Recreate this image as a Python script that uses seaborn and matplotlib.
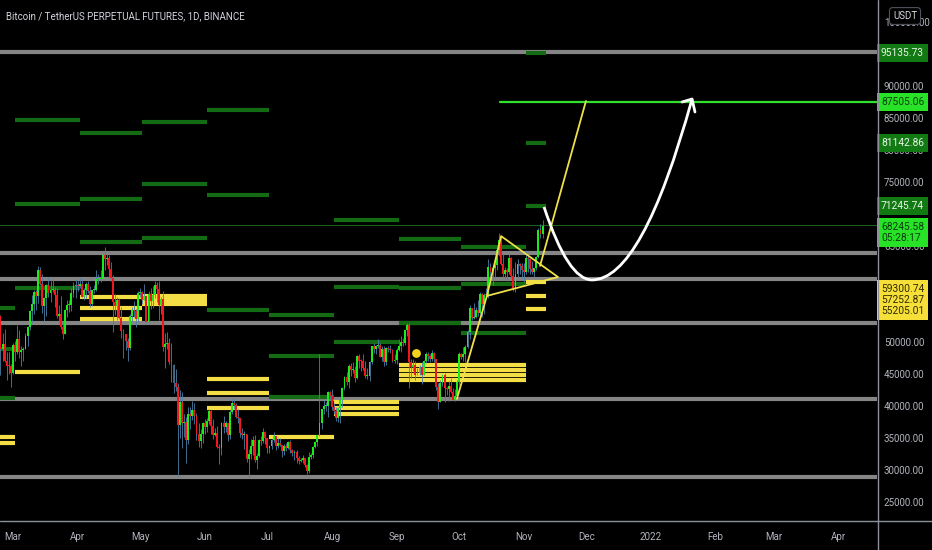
import pandas as pd
import matplotlib
matplotlib.use('Agg')
import matplotlib.pyplot as plt
import matplotlib.dates as mdates
import matplotlib.transforms as mtransforms
from matplotlib.path import Path
from matplotlib.patches import PathPatch
from matplotlib.lines import Line2D
import seaborn as sns

# ---- daily candles (thousand USDT), 2021-02-22 .. 2021-11-10 ----
start_date = '2021-02-22'
first_open = 57.4
closes = [
    54.1, 48.9, 49.7, 47.0, 46.3, 46.2, 45.2,
    49.6, 48.4, 50.5, 48.4, 48.8, 48.9, 51.0, 52.4, 54.9, 55.9, 57.8, 57.2, 61.2, 59.0, 55.6, 56.9,
    58.9, 57.6, 58.1, 58.1, 57.4, 54.1, 54.3, 52.3, 51.3, 55.0, 55.8, 55.8, 57.6, 58.8, 58.8,
    58.7, 59.0, 57.1, 58.2, 59.1, 58.0, 56.0, 58.1, 58.1, 59.8, 59.8, 59.9, 63.6, 62.9, 63.2,
    61.4, 60.0, 56.2, 55.7, 56.5, 53.8, 51.7, 51.2, 50.1, 49.0, 54.0, 55.0, 54.8, 53.6, 57.7,
    57.8, 56.6, 57.2, 53.2, 57.5, 56.4, 57.3, 58.9, 58.3, 55.8, 56.7, 49.2, 49.7, 49.9, 46.8, 46.4,
    43.6, 42.9, 37.0, 40.7, 37.3, 37.5, 34.7, 38.8, 38.4, 39.3, 38.5, 35.7, 34.6, 35.7, 37.3,
    36.7, 37.6, 39.2, 36.9, 35.5, 35.8, 33.6, 33.4, 37.4, 36.7, 37.3, 35.5, 39.1, 40.5, 40.2,
    38.3, 38.1, 35.8, 35.5, 35.6, 31.7, 32.5, 33.7, 34.7, 31.6, 32.2, 34.7, 34.5, 35.9, 35.0,
    33.5, 33.8, 34.7, 35.3, 33.7, 34.2, 33.9, 32.9, 33.8, 33.5, 34.3, 33.1, 32.7, 32.8, 31.9, 31.4,
    31.5, 31.8, 30.8, 29.8, 32.1, 32.3, 33.6, 34.3, 35.4, 37.3, 39.5, 40.0, 40.0, 42.2, 41.5,
    39.8, 39.2, 38.2, 39.7, 40.9, 42.8, 44.6, 43.8, 46.3, 45.6, 45.6, 44.4, 47.8, 47.1, 47.0, 45.9,
    44.7, 44.7, 46.8, 49.3, 48.9, 49.3, 49.5, 47.7, 48.9, 46.9, 49.1, 48.9, 48.8, 47.0, 47.2,
    48.8, 49.3, 50.0, 49.9, 51.8, 52.7, 46.9, 46.1, 46.4, 44.9, 45.2, 46.1, 44.9, 47.1, 48.1,
    47.8, 47.3, 48.3, 47.3, 43.0, 40.7, 43.6, 44.9, 42.8, 42.7, 43.2, 42.2, 41.0, 41.5, 43.8,
    48.1, 47.7, 48.2, 49.2, 51.5, 55.3, 53.8, 53.9, 55.0, 54.6, 57.5, 56.0, 57.4, 57.3, 61.7, 60.9,
    61.5, 62.0, 64.3, 66.0, 62.2, 60.7, 61.3, 60.9, 63.1, 60.3, 58.5, 60.6, 62.2, 61.9, 61.3,
    61.0, 63.2, 62.9, 61.4, 61.0, 61.5, 63.3, 67.5, 66.9, 68.2,
]
highs = [
    57.5, 54.2, 51.4, 52.0, 48.4, 48.4, 46.6,
    49.8, 50.2, 52.6, 51.8, 49.4, 49.2, 51.4, 52.5, 55.0, 57.4, 58.2, 58.1, 61.8, 61.7, 60.6, 57.0,
    59.0, 60.1, 59.5, 59.9, 58.6, 58.4, 55.8, 57.2, 53.2, 55.1, 56.6, 56.6, 58.4, 59.4, 59.8,
    59.5, 60.0, 59.8, 58.5, 59.3, 59.5, 58.7, 58.2, 58.9, 61.2, 60.7, 61.2, 63.8, 64.9, 63.8,
    63.6, 62.5, 60.5, 57.5, 57.0, 56.8, 55.5, 52.1, 51.2, 50.6, 54.4, 55.5, 56.4, 55.2, 58.0,
    58.5, 57.9, 59.0, 57.2, 58.0, 58.4, 58.7, 59.5, 59.3, 59.6, 57.0, 58.0, 51.4, 51.6, 50.7, 49.8,
    46.6, 45.8, 43.6, 42.5, 42.2, 38.8, 38.3, 39.9, 39.8, 40.8, 40.4, 38.9, 37.3, 36.4, 37.5,
    37.9, 38.2, 39.5, 39.3, 37.9, 36.5, 36.8, 34.1, 37.5, 38.4, 37.7, 37.4, 39.3, 41.1, 41.3,
    40.5, 39.6, 38.2, 36.5, 36.1, 35.7, 33.3, 34.9, 35.3, 35.5, 32.7, 34.8, 35.3, 36.6, 36.1,
    35.0, 33.9, 34.9, 35.9, 35.3, 35.0, 35.0, 33.9, 34.1, 34.2, 34.6, 34.7, 33.3, 33.1, 33.2, 32.2,
    31.9, 32.4, 31.9, 31.0, 32.8, 32.6, 33.7, 34.5, 35.5, 48.2, 39.6, 40.9, 40.6, 42.3, 42.4,
    42.6, 40.4, 39.8, 39.9, 41.3, 43.0, 44.7, 45.3, 46.5, 46.7, 46.8, 46.2, 48.0, 48.1, 47.4, 48.1,
    47.1, 46.0, 47.0, 49.4, 49.8, 49.5, 50.5, 49.9, 49.3, 49.4, 49.2, 49.3, 49.6, 48.9, 48.2,
    49.0, 50.4, 51.0, 50.6, 51.9, 52.9, 52.9, 47.3, 47.4, 47.1, 45.9, 46.4, 46.9, 47.2, 48.4,
    48.5, 48.1, 48.8, 48.4, 47.3, 43.6, 44.0, 45.0, 45.2, 42.9, 43.9, 44.4, 42.8, 42.6, 44.1,
    48.5, 48.3, 49.2, 49.5, 51.9, 55.8, 55.3, 56.1, 55.5, 56.5, 57.8, 57.7, 57.6, 58.5, 62.9, 62.3,
    61.7, 62.6, 64.5, 67.0, 66.6, 63.7, 61.7, 61.5, 63.7, 63.3, 61.5, 62.5, 62.9, 62.3, 62.4,
    62.4, 64.3, 63.5, 63.1, 62.6, 61.6, 63.4, 67.8, 68.5, 69.0,
]
lows = [
    48.0, 44.9, 47.0, 46.9, 44.1, 45.0, 43.0,
    45.0, 47.0, 48.1, 47.5, 46.3, 47.1, 48.9, 49.3, 51.8, 53.0, 54.3, 55.0, 56.1, 58.9, 54.6, 53.3,
    54.1, 57.0, 56.3, 57.8, 55.5, 53.7, 53.0, 52.0, 50.4, 51.2, 53.9, 54.7, 54.9, 57.0, 56.9,
    57.9, 58.5, 57.0, 56.5, 56.8, 57.7, 55.5, 55.7, 57.7, 57.9, 59.0, 59.4, 59.8, 61.3, 62.0,
    60.0, 59.6, 51.5, 54.2, 53.4, 53.6, 50.6, 47.5, 48.8, 47.0, 48.8, 53.2, 53.9, 52.3, 53.1,
    57.1, 56.0, 56.5, 53.0, 52.9, 55.2, 55.3, 56.9, 56.2, 53.4, 54.4, 48.6, 46.0, 48.9, 46.6, 43.8,
    42.0, 42.3, 29.0, 35.0, 33.5, 35.2, 31.1, 34.0, 36.4, 37.8, 37.2, 34.7, 33.6, 33.4, 34.2,
    35.7, 35.9, 37.2, 35.6, 34.8, 35.3, 33.4, 31.0, 32.4, 35.8, 35.9, 34.6, 34.8, 38.7, 39.5,
    38.1, 37.4, 35.1, 34.8, 33.3, 31.3, 28.8, 31.7, 32.3, 31.3, 30.2, 32.0, 33.9, 34.2, 34.0,
    32.7, 32.7, 33.3, 34.4, 33.1, 33.5, 33.8, 32.1, 32.3, 33.0, 33.3, 32.7, 32.2, 31.6, 31.1, 31.0,
    31.2, 31.1, 30.4, 29.3, 29.5, 31.7, 31.9, 33.4, 33.8, 35.3, 36.4, 38.8, 39.2, 38.3, 41.0,
    39.4, 38.7, 37.6, 37.5, 37.3, 39.9, 42.5, 43.3, 42.8, 44.7, 45.1, 43.8, 44.2, 45.9, 45.5, 45.7,
    44.4, 44.2, 43.9, 46.6, 48.3, 48.1, 49.0, 47.6, 47.1, 46.3, 46.4, 48.4, 48.3, 46.9, 46.7,
    46.5, 48.6, 48.4, 49.4, 49.5, 50.9, 42.8, 44.4, 45.5, 44.1, 44.8, 44.8, 43.4, 44.8, 46.7,
    47.0, 46.8, 47.1, 46.8, 42.5, 39.6, 40.6, 43.1, 40.7, 41.7, 40.8, 42.1, 40.9, 40.8, 41.4,
    43.3, 47.4, 47.1, 46.9, 49.1, 50.4, 53.4, 53.6, 53.7, 54.1, 54.4, 53.9, 54.3, 56.8, 56.9, 60.2,
    58.9, 60.0, 61.3, 63.5, 62.0, 60.0, 59.7, 59.5, 60.7, 59.8, 58.0, 57.8, 60.2, 60.7, 60.0,
    59.4, 60.6, 60.9, 60.7, 60.7, 60.1, 61.3, 63.1, 66.2, 66.3,
]

# ---- indicator levels ----
month_names = ['Feb', 'Mar', 'Apr', 'May', 'Jun', 'Jul', 'Aug', 'Sep', 'Oct', 'Nov']
green_high = [55300, 84700, 82650, 84400, 86250, 54200, 69050, 66100, 64850, 95135.73]
green_mid = [48900, 71550, 72350, 74700, 72950, 47800, 58600, 58450, 59050, 81142.86]
green_low = [41250, 58450, 65600, 66250, 55000, 41400, 50000, 52950, 51400, 71245.74]

yellow_from = ['Feb', 'Feb', 'Mar', 'Apr', 'Apr', 'Apr', 'May', 'May', 'May', 'Jun', 'Jun', 'Jun', 'Jul',
               'Aug', 'Aug', 'Aug', 'Sep', 'Sep', 'Sep', 'Sep', 'Nov', 'Nov', 'Nov']
yellow_to = ['Feb', 'Feb', 'Mar', 'Apr', 'Apr', 'Apr', 'May', 'May', 'May', 'Jun', 'Jun', 'Jun', 'Jul',
             'Aug', 'Aug', 'Aug', 'Oct', 'Oct', 'Oct', 'Oct', 'Nov', 'Nov', 'Nov']
yellow_price = [35150, 34200, 45300, 57050, 55300, 53600, 57200, 56600, 55950, 44200, 42050, 39700, 35150,
                40600, 39700, 38750, 46400, 45600, 44850, 44050, 59300.74, 57252.87, 55205.01]

grey_levels = [95300, 63900, 59900, 53000, 41100, 28950]
last_price = 68245.58
target_price = 87505.06

# hand drawn pattern (days after 2021-03-01, price)
wedge_days = [212.9, 227.3, 234.1, 261.4, 227.3]
wedge_prices = [41100, 57200, 66550, 60150, 57200]
breakout_days = [252.8, 274.8]
breakout_prices = [61900, 87650]
target_from_day = 233.6
curve_days = [254.7, 266.2, 277.7, 301.7, 325.7]
curve_prices = [71100, 59700, 59700, 59700, 87970]
head_days = [320.9, 325.7, 327.1]
head_prices = [87500, 87970, 85940]
dot_day = 193.3
dot_price = 48300

month_ticks = ['2021-03-01', '2021-04-01', '2021-05-01', '2021-06-01', '2021-07-01', '2021-08-01',
               '2021-09-01', '2021-10-01', '2021-11-01', '2021-12-01', '2022-01-01', '2022-02-01',
               '2022-03-01', '2022-04-01']
month_labels = ['Mar', 'Apr', 'May', 'Jun', 'Jul', 'Aug', 'Sep', 'Oct', 'Nov', 'Dec', '2022', 'Feb',
                'Mar', 'Apr']
# right scale, values hidden behind the price tags are left blank
price_ticks = list(range(25000, 100001, 5000))
hidden_ticks = [55000, 60000, 70000, 95000]

# ---- frame ----
df = pd.DataFrame({'date': pd.date_range(start_date, periods=len(closes), freq='D'),
                   'close': closes, 'high': highs, 'low': lows})
df['open'] = df['close'].shift(1).fillna(first_open)
for c in ['open', 'close', 'high', 'low']:
    df[c] = df[c] * 1000
df['high'] = df[['high', 'open', 'close']].max(axis=1)
df['low'] = df[['low', 'open', 'close']].min(axis=1)
df['x'] = mdates.date2num(df['date'])
df['up'] = df['close'] >= df['open']

base = mdates.date2num(pd.Timestamp('2021-03-01'))
col_start = {m: mdates.date2num(d) + 1 for m, d in
             zip(month_names, pd.date_range('2021-02-01', periods=len(month_names), freq='MS'))}
col_end = {m: col_start[n] for m, n in zip(month_names[:-1], month_names[1:])}
col_end['Nov'] = df['x'].iloc[-1] + 1.5

sns.set_theme(style='dark', rc={'axes.facecolor': 'black', 'figure.facecolor': 'black',
                                'axes.grid': False})
plt.rcParams['font.family'] = ['Roboto', 'DejaVu Sans']

W, H = 932, 550
fig = plt.figure(figsize=(W / 100, H / 100), dpi=100, facecolor='black')
ax = fig.add_axes([0, 29 / H, 877 / W, 521 / H])
ax.set_facecolor('black')
for s in ax.spines.values():
    s.set_visible(False)

# grey support lines
for p in grey_levels:
    ax.axhline(p, color='#858585', lw=3, zorder=1)

# monthly green levels
for m, a, b, c in zip(month_names, green_high, green_mid, green_low):
    for p in (a, b, c):
        ax.plot([col_start[m], col_end[m]], [p, p], color='#136b13', lw=3,
                solid_capstyle='butt', zorder=2)

# yellow zones
for f, t, p in zip(yellow_from, yellow_to, yellow_price):
    ax.plot([col_start[f], col_end[t]], [p, p], color='#f3df45', lw=3,
            solid_capstyle='butt', zorder=2)

# current price line
ax.axhline(last_price, color='#1d5e1d', lw=0.8, zorder=1)

# candles
ax.vlines(df['x'], df['low'], df['high'], color='#4d7fa6', lw=0.6, zorder=3)
body_lo = df[['open', 'close']].min(axis=1)
body_h = (df['close'] - df['open']).abs().clip(lower=150)
ax.bar(df['x'], body_h, bottom=body_lo, width=0.9,
       color=['#19ec19' if u else '#f01820' for u in df['up']], linewidth=0, zorder=4)

# yellow dot
sns.scatterplot(x=[base + dot_day], y=[dot_price], color='#f5d21c', s=40, linewidth=0,
                ax=ax, zorder=5)

# target line
sns.lineplot(x=[base + target_from_day, base + 500], y=[target_price, target_price],
             color='#2fe02f', lw=1.6, ax=ax, zorder=5)

# wedge + breakout
ax.plot([base + d for d in wedge_days], wedge_prices, color='#f0e04a', lw=1.3, zorder=6)
ax.plot([base + d for d in breakout_days], breakout_prices, color='#f0e04a', lw=1.3, zorder=6)

# white projection arrow
pts = [(base + d, p) for d, p in zip(curve_days, curve_prices)]
path = Path(pts, [Path.MOVETO, Path.CURVE3, Path.CURVE3, Path.CURVE3, Path.CURVE3])
ax.add_patch(PathPatch(path, fc='none', ec='white', lw=2, zorder=6))
ax.plot([base + d for d in head_days], head_prices, color='white', lw=2, zorder=6)

# axes
ax.set_xlim(base - 6.23, base + 414.4)
ax.set_ylim(22030, 103440)
ax.yaxis.tick_right()
ax.set_yticks(price_ticks)
ax.set_yticklabels(['' if v in hidden_ticks else f'{v:.2f}' for v in price_ticks])
ax.set_xticks(mdates.date2num(pd.to_datetime(month_ticks)))
ax.set_xticklabels(month_labels)
ax.tick_params(axis='y', length=0, pad=5, labelsize=7, labelcolor='#b2b5be')
ax.tick_params(axis='x', length=0, pad=8, labelsize=7, labelcolor='#b2b5be')

fig.add_artist(Line2D([0, 1], [29 / H, 29 / H], color='#8e9099', lw=1))
fig.add_artist(Line2D([877.5 / W, 877.5 / W], [0, 1], color='#8e9099', lw=1))

# price tags
tr = mtransforms.blended_transform_factory(ax.transAxes, ax.transData)


def tag(y, text, fc, tc):
    ax.text(1.0045, y, text, transform=tr, ha='left', va='center', fontsize=7.4, color=tc,
            linespacing=1.15, clip_on=False, zorder=20,
            bbox=dict(boxstyle='square,pad=0.38', fc=fc, ec='none'))


tag(95135.73, '95135.73', '#127a12', '#eaf5ea')
tag(target_price, '87505.06', '#27e227', '#0d3d0d')
tag(81142.86, '81142.86', '#127a12', '#eaf5ea')
tag(71245.74, '71245.74', '#127a12', '#eaf5ea')
tag(67100, '68245.58\n05:28:17', '#27e227', '#0d3d0d')
tag(56600, '59300.74\n57252.87\n55205.01', '#f7df3a', '#2e2a00')

fig.text(6 / W, 1 - 16 / H, 'Bitcoin / TetherUS PERPETUAL FUTURES, 1D, BINANCE', ha='left',
         va='center', fontsize=7, color='#d1d4dc')
fig.text(905 / W, 1 - 16 / H, 'USDT', ha='center', va='center', fontsize=7, color='#d1d4dc',
         bbox=dict(boxstyle='round,pad=0.35', fc='black', ec='#50535e', lw=0.8), zorder=30)

fig.savefig('out.png', dpi=100, facecolor='black')
